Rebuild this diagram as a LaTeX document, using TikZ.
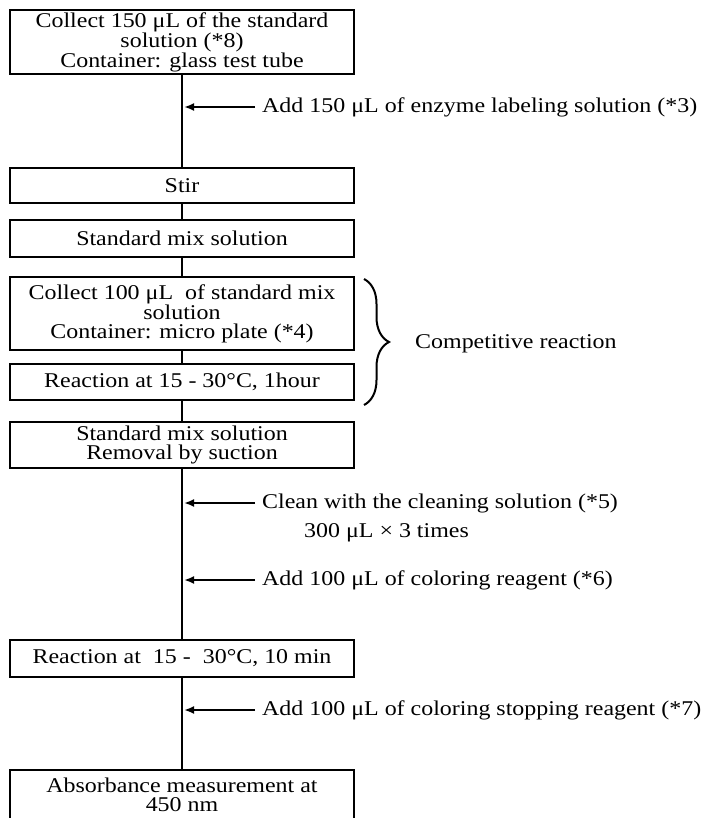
\documentclass[tikz,border=0pt]{standalone}
\usepackage{fontspec}
\setmainfont{Liberation Serif}[FakeStretch=1.14]
\usetikzlibrary{arrows.meta,decorations.pathreplacing}

\tikzset{
	stepbox/.style={rectangle, draw, line width=2.2pt, minimum width=344pt, inner sep=0pt, align=center, font=\fontsize{21}{19}\selectfont},
	addtext/.style={anchor=west, inner ysep=0pt, inner xsep=7pt, align=left, font=\fontsize{21}{19}\selectfont},
	flow/.style={line width=2.6pt},
	addarrow/.style={line width=2pt, -{Latex[length=10pt,width=8pt]}},
}

\begin{document}
\begin{tikzpicture}[x=1pt, y=-1pt]
	\useasboundingbox (0,0) rectangle (705,818);

	\node (collect) [stepbox, minimum height=64pt] at (182,42) {Collect 150 μL of the standard\\solution (*8)\\Container: glass test tube};
	\node (stir) [stepbox, minimum height=35pt] at (182,185.5) {Stir};
	\node (mix) [stepbox, minimum height=37pt] at (182,238.5) {Standard mix solution};
	\node (plate) [stepbox, minimum height=73pt] at (182,313.5) {Collect 100 μL\ \ of standard mix\\solution\\Container: micro plate (*4)};
	\node (react1) [stepbox, minimum height=36pt] at (182,382) {Reaction at 15 - 30°C, 1hour};
	\node (suction) [stepbox, minimum height=46pt] at (182,445) {Standard mix solution\\Removal by suction};
	\node (react2) [stepbox, minimum height=37pt] at (182,658.5) {Reaction at\ \ 15 -\ \ 30°C, 10 min};
	\node (absorb) [stepbox, minimum height=50pt] at (182,795) {Absorbance measurement at\\450 nm};

	\path[flow]
	(collect) edge (stir)
	(stir) edge (mix)
	(mix) edge (plate)
	(plate) edge (react1)
	(react1) edge (suction)
	(suction) edge (react2)
	(react2) edge (absorb);

	% reagents added on the way down
	\coordinate (in1) at (184,107);
	\coordinate (in2) at (184,503);
	\coordinate (in3) at (184,580);
	\coordinate (in4) at (184,710);
	\node (enzyme) [addtext] at (255,107) {Add 150 μL of enzyme labeling solution (*3)};
	\node (clean) [addtext] at (255,503) {Clean with the cleaning solution (*5)};
	\node (cleanqty) [addtext] at (297,533) {300 μL × 3 times};
	\node (color) [addtext] at (255,580) {Add 100 μL of coloring reagent (*6)};
	\node (stop) [addtext] at (255,710) {Add 100 μL of coloring stopping reagent (*7)};

	\path[addarrow]
	(enzyme) edge (in1)
	(clean) edge (in2)
	(color) edge (in3)
	(stop) edge (in4);

	% competitive reaction brace
	\coordinate (brtop) at (364,279);
	\coordinate (brbot) at (364,405);
	\draw[line width=2pt, decorate, decoration={brace, amplitude=25pt}] (brtop) -- (brbot);
	\node (compet) [addtext] at (408,344) {Competitive reaction};

\end{tikzpicture}
\end{document}
